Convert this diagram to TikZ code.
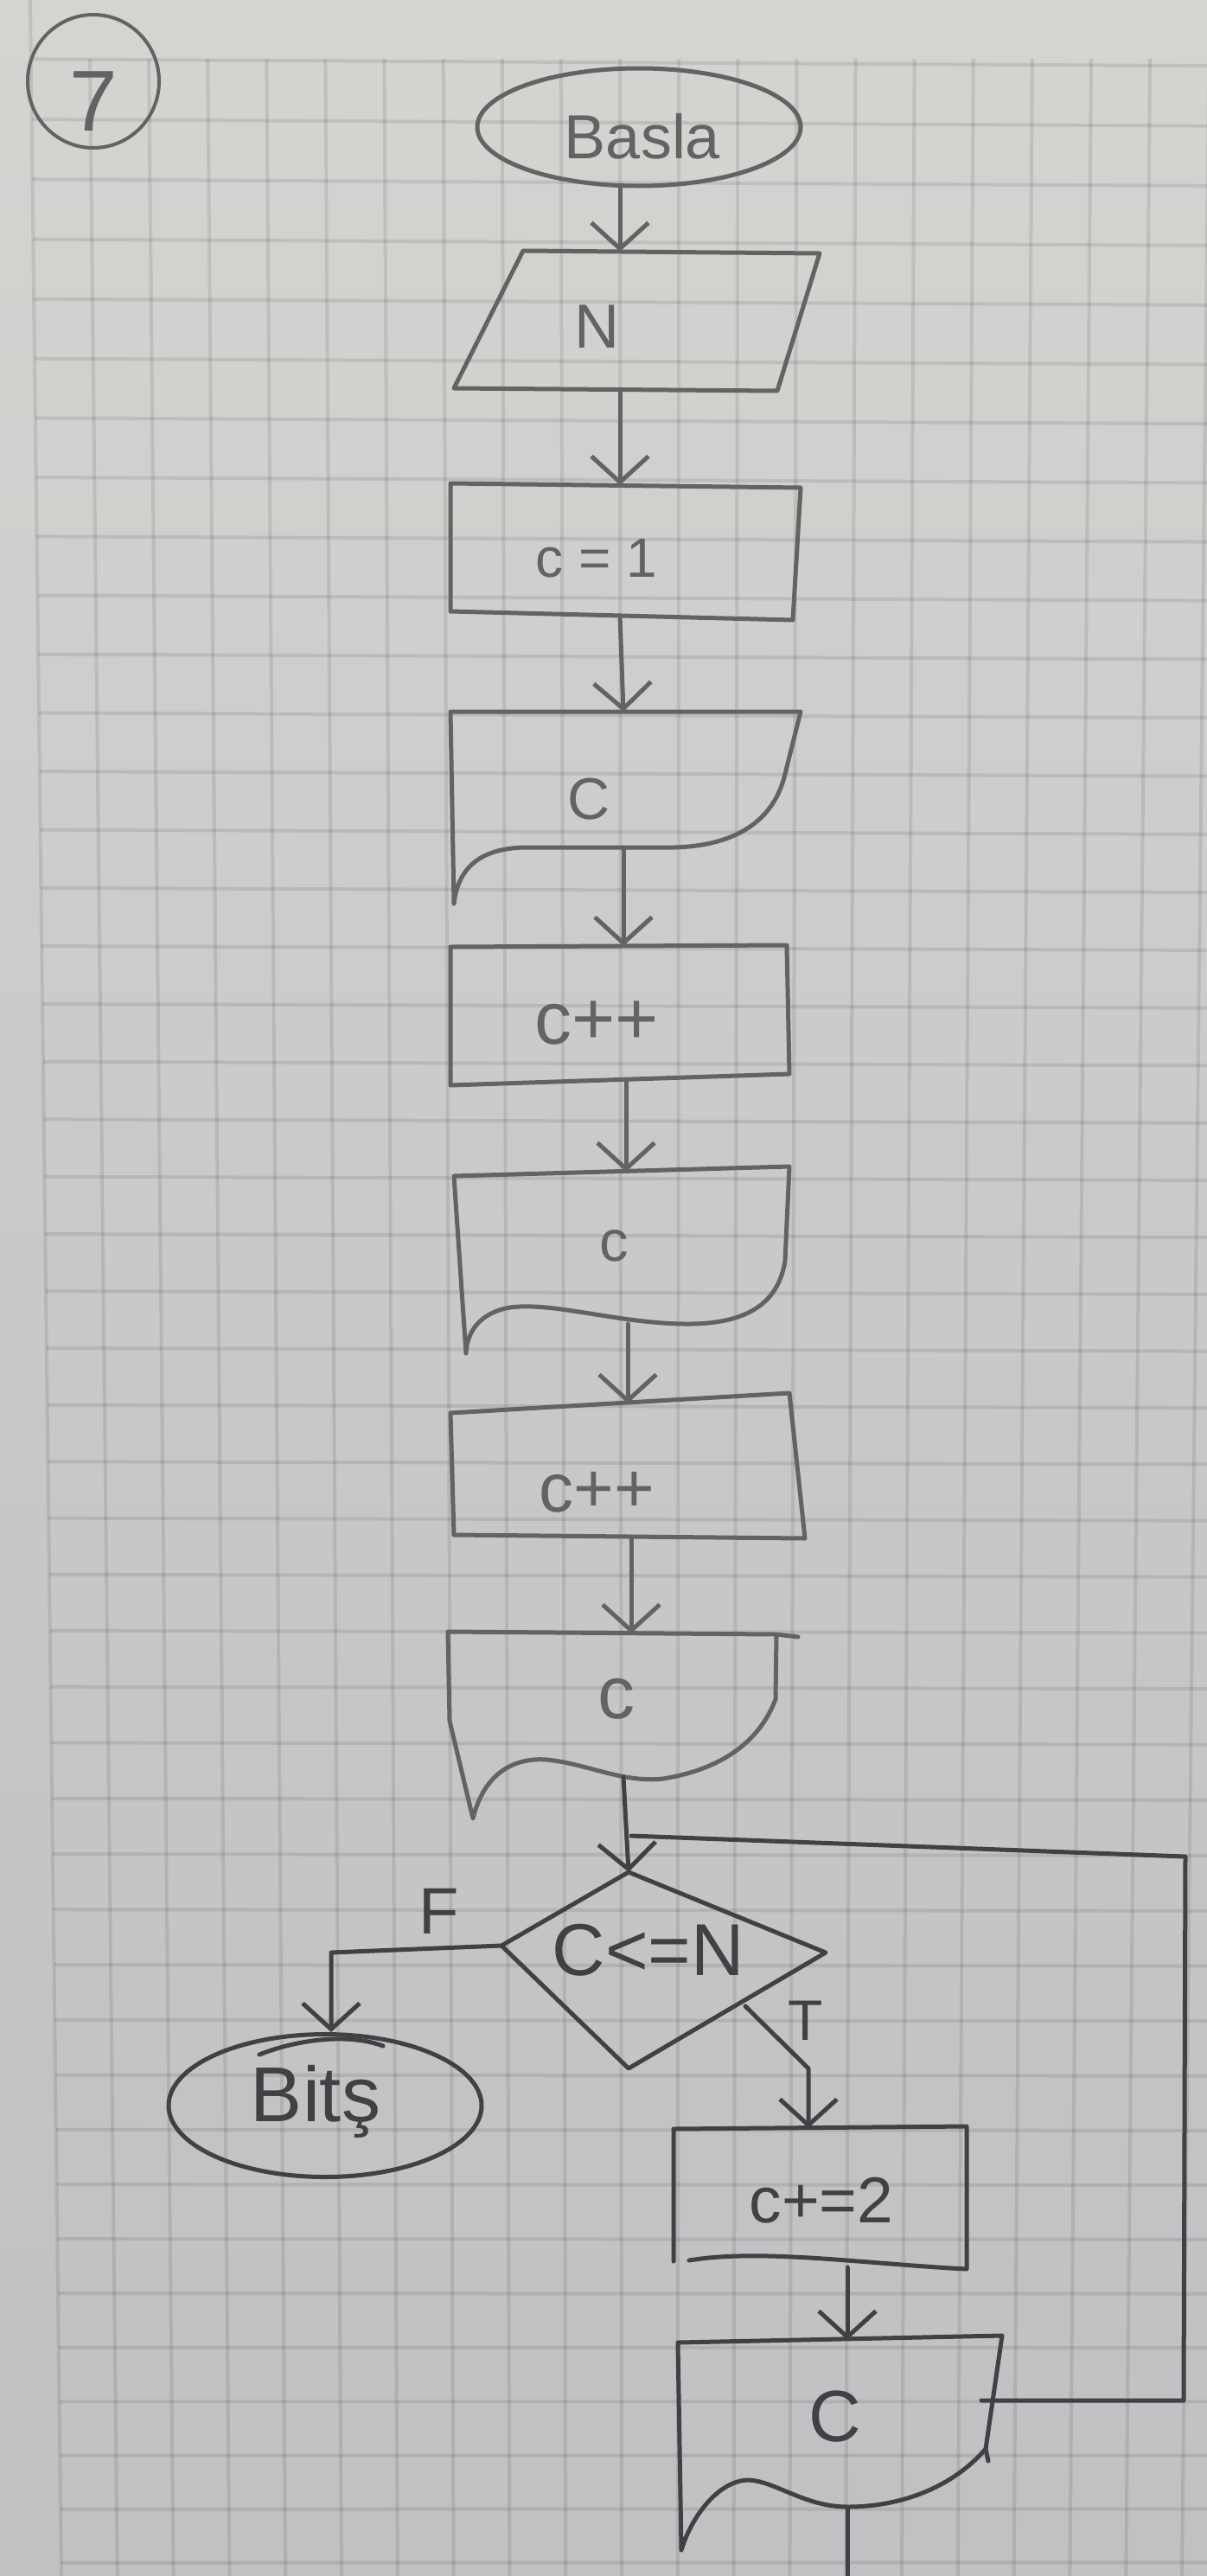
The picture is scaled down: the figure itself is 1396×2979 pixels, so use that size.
\documentclass[tikz,border=0pt]{standalone}
\usepackage{fontspec}
\setmainfont{Liberation Sans}
\usetikzlibrary{arrows.meta,shapes.geometric}
\definecolor{papertop}{RGB}{213,212,209}
\definecolor{papermid}{RGB}{202,201,200}
\definecolor{paperbot}{RGB}{193,192,194}
\definecolor{inkA}{RGB}{100,98,100}
\definecolor{inkB}{RGB}{66,64,68}
\newcommand\fsz[1]{\fontsize{#1}{#1}\selectfont}
\begin{document}
\begin{tikzpicture}[x=1pt,y=-1pt,
  ink/.style={draw=inkA, line width=5pt, line join=round, line cap=round},
  inkd/.style={draw=inkB, line width=5pt, line join=round, line cap=round},
  arr/.style={ink, -{Straight Barb[length=30pt,width=66pt]}},
  arrd/.style={inkd, -{Straight Barb[length=30pt,width=66pt]}},
  txt/.style={text=inkA, inner sep=0pt},
  txtd/.style={text=inkB, inner sep=0pt},
  gridline/.style={draw=black, draw opacity=0.09, line width=4pt}]
\useasboundingbox (0,0) rectangle (1396,2979);
\shade[top color=papertop, bottom color=paperbot, middle color=papermid] (0,0) rectangle (1396,2979);
% grid paper
\foreach \k in {0,...,20}{
  \pgfmathsetmacro\xt{35+68.2*\k}
  \pgfmathsetmacro\xb{71+64.8*\k}
  \pgfmathsetmacro\ys{\k==0 ? 0 : 68}
  \pgfmathsetmacro\xs{\xt+(\xb-\xt)*(\ys/2979)}
  \draw[gridline] (\xs,\ys) -- (\xb,2979);
}
\foreach \j in {-1,...,43}{
  \pgfmathsetmacro\yl{138+69.53*\j-0.0887*(\j)*(\j)}
  \pgfmathsetmacro\yr{\yl+8*(1-\yl/2800)}
  \pgfmathsetmacro\xl{35+36*(\yl/2979)}
  \draw[gridline] (\xl,\yl) -- (1396,\yr);
}
% number 7
\node[ellipse, draw=inkA, line width=4pt, minimum width=152pt, minimum height=154pt, inner sep=0pt] (seven) at (108,94) {};
\node[txt, font=\fsz{100pt}] (sevenT) at (108,117) {7};
% start
\node[ellipse, ink, minimum width=374pt, minimum height=136pt, inner sep=0pt] (start) at (739,147) {};
\node[txt, font=\fsz{72pt}] (startT) at (743,158) {Basla};
% input N
\coordinate (p1) at (605,290);
\coordinate (p2) at (948,293);
\coordinate (p3) at (899,452);
\coordinate (p4) at (525,449);
\draw[ink] (p1) -- (p2) -- (p3) -- (p4) -- cycle;
\coordinate (inTop) at (717,291);
\coordinate (inBot) at (717,450);
\node[txt, font=\fsz{72pt}] (inT) at (690,378) {N};
\draw[arr] (start.south -| inTop) -- (inTop);
% c = 1
\draw[ink] (521,559) -- (926,564) -- (917,717) -- (521,707) -- cycle;
\coordinate (r1Top) at (717,561);
\coordinate (r1Bot) at (717,712);
\node[txt, font=\fsz{64pt}] (r1T) at (690,646) {c = 1};
\draw[arr] (inBot) -- (r1Top);
% document 1
\draw[ink] (521,823) -- (926,823) -- (908,895) .. controls (895,950) and (850,978) .. (780,980) -- (610,980) .. controls (560,980) and (530,1000) .. (525,1045) -- cycle;
\coordinate (d1Top) at (721,823);
\coordinate (d1Bot) at (721,980);
\node[txt, font=\fsz{68pt}] (d1T) at (681,924) {C};
\draw[arr] (r1Bot) -- (d1Top);
% c++ 1
\draw[ink] (521,1095) -- (910,1093) -- (913,1242) -- (521,1255) -- cycle;
\coordinate (r2Top) at (721,1094);
\coordinate (r2Bot) at (724,1248);
\node[txt, font=\fsz{86pt}] (r2T) at (690,1183) {c++};
\draw[arr] (d1Bot) -- (r2Top);
% document 2
\draw[ink] (525,1360) -- (913,1349) -- (908,1458) .. controls (900,1510) and (860,1530) .. (800,1531) .. controls (720,1532) and (640,1505) .. (590,1512) .. controls (555,1518) and (540,1540) .. (539,1565) -- cycle;
\coordinate (d2Top) at (724,1355);
\coordinate (d2Bot) at (726,1531);
\node[txt, font=\fsz{67pt}] (d2T) at (710,1441) {c};
\draw[arr] (r2Bot) -- (d2Top);
% c++ 2
\draw[ink] (521,1634) -- (913,1611) -- (931,1779) -- (525,1775) -- cycle;
\coordinate (r3Top) at (726,1623);
\coordinate (r3Bot) at (730,1777);
\node[txt, font=\fsz{80pt}] (r3T) at (690,1726) {c++};
\draw[arr] (d2Bot) -- (r3Top);
% document 3
\draw[ink] (518,1887) -- (898,1890) -- (897,1965) .. controls (880,2010) and (840,2045) .. (767,2057) .. controls (720,2062) and (680,2040) .. (633,2035) .. controls (595,2032) and (560,2050) .. (547,2103) -- (520,1990) -- cycle;
\draw[ink] (898,1890) -- (923,1893);
\coordinate (d3Top) at (730,1889);
\coordinate (d3Bot) at (721,2055);
\node[txt, font=\fsz{86pt}] (d3T) at (713,1965) {c};
\draw[arr] (r3Bot) -- (d3Top);
% decision
\coordinate (dT) at (727,2165);
\coordinate (dR) at (955,2258);
\coordinate (dB) at (727,2392);
\coordinate (dL) at (580,2250);
\draw[inkd] (dT) -- (dR) -- (dB) -- (dL) -- cycle;
\node[txtd, font=\fsz{85pt}] (decT) at (750,2255) {C<=N};
\coordinate (J) at (730,2123);
\draw[arrd] (d3Bot) -- (dT);
% false branch -> end
\node[ellipse, inkd, minimum width=362pt, minimum height=165pt, inner sep=0pt] (bitis) at (376,2435) {};
\draw[inkd] (300,2376) .. controls (340,2360) and (400,2350) .. (443,2366);
\node[txtd, font=\fsz{90pt}] (bitisT) at (365,2430) {Bitş};
\coordinate (fC) at (383,2258);
\draw[arrd] (dL) -- (fC) -- (fC |- bitis.north);
\node[txtd, font=\fsz{76pt}] (fT) at (508,2210) {F};
% true branch
\coordinate (tS) at (862,2320);
\coordinate (tC) at (935,2392);
\coordinate (r4Top) at (935,2461);
\draw[arrd] (tS) -- (tC) -- (r4Top);
\node[txtd, font=\fsz{66pt}] (tT) at (932,2337) {T};
% c+=2
\draw[inkd] (779,2615) -- (779,2462) -- (1118,2459) -- (1118,2624) .. controls (1000,2618) and (880,2600) .. (797,2614);
\coordinate (r4Bot) at (980,2622);
\node[txtd, font=\fsz{75pt}] (r4T) at (950,2545) {c+=2};
% document 4
\draw[inkd] (784,2709) -- (1159,2701) -- (1140,2832) .. controls (1100,2878) and (1040,2899) .. (980,2899) .. controls (930,2899) and (895,2868) .. (864,2868) .. controls (830,2870) and (800,2910) .. (788,2949) -- cycle;
\draw[inkd] (1140,2832) -- (1143,2846);
\coordinate (d4Top) at (980,2706);
\coordinate (d4Bot) at (980,2899);
\coordinate (d4R) at (1135,2776);
\node[txtd, font=\fsz{84pt}] (d4T) at (966,2795) {C};
\draw[arrd] (r4Bot) -- (d4Top);
\coordinate (tail) at (980,2979);
\draw[inkd] (d4Bot) -- (tail);
% loop back
\coordinate (lc1) at (1369,2776);
\coordinate (lc2) at (1371,2147);
\draw[inkd] (d4R) -- (lc1) -- (lc2) -- (J);
\end{tikzpicture}
\end{document}
